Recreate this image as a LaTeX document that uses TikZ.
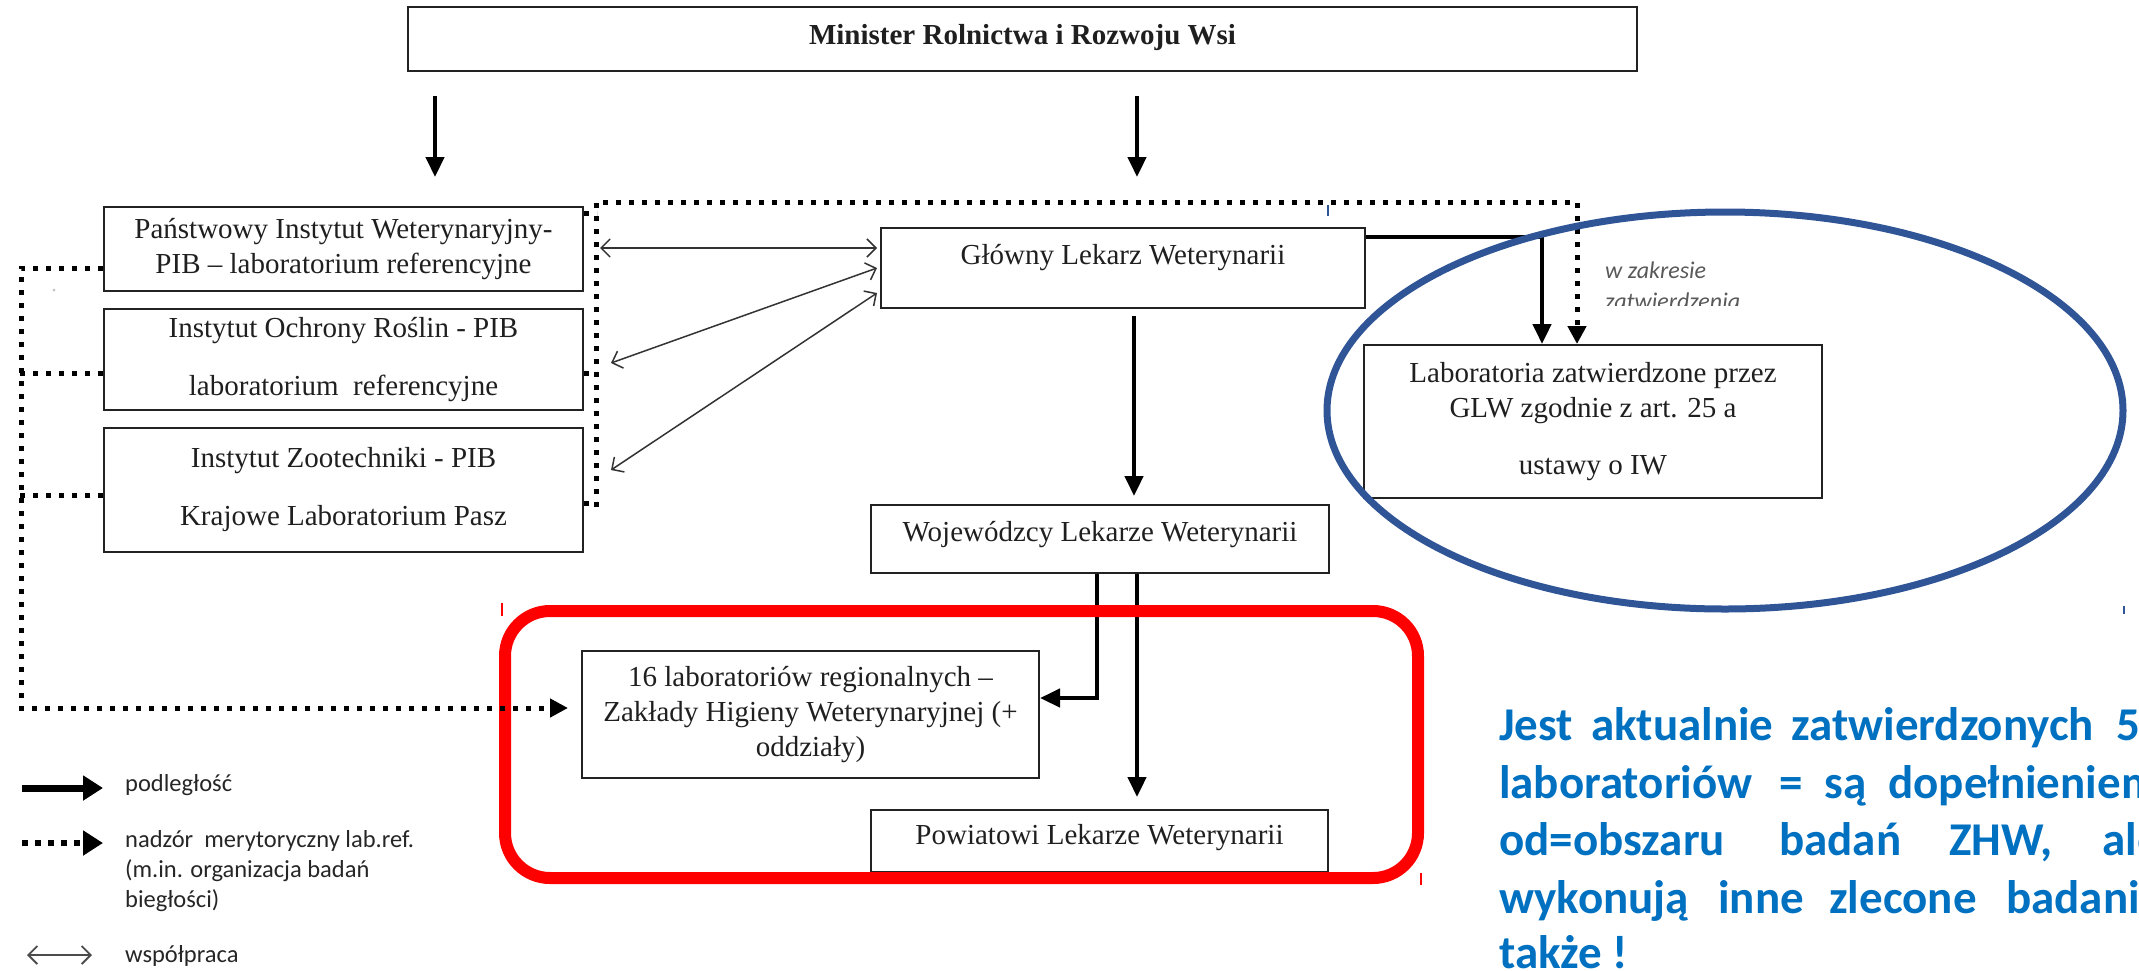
\documentclass[tikz,border=0pt]{standalone}
\usepackage{fontspec}
\setmainfont{Liberation Serif}
\newfontfamily\carlito{Carlito}
\usetikzlibrary{arrows.meta,calc}
\definecolor{ellblue}{HTML}{2F5597}
\definecolor{txtblue}{HTML}{0070C0}
\definecolor{boxline}{HTML}{222222}
\begin{document}
\begin{tikzpicture}[x=1pt,y=-1pt,
  box/.style={draw=boxline, line width=2pt, inner sep=0pt, align=center,
    font=\fontsize{29}{35}\selectfont, text=black!88},
  thickarrow/.style={line width=4.5pt, -{Triangle[length=20pt,width=18pt]}},
  dotline/.style={line width=5pt, dash pattern=on 5pt off 8pt},
  dotarrow/.style={dotline, -{Triangle[length=18pt,width=18pt]}},
  coop/.style={line width=1.5pt, draw=black!80,
    {Straight Barb[length=9pt,width=18pt]}-{Straight Barb[length=9pt,width=18pt]}},
  legtext/.style={font=\carlito\fontsize{24.5}{30}\selectfont, text=black!85, inner sep=0pt, align=left},
  bluetext/.style={font=\carlito\bfseries\fontsize{47}{57}\selectfont, text=txtblue, anchor=base west, inner sep=0pt},
  tick/.style={line width=1.2pt},
]
\useasboundingbox (0,0) rectangle (2139,970);
\clip (0,0) rectangle (2139,970);

% ---------- boxes ----------
\node[box, minimum width=1229pt, minimum height=64pt, font=\bfseries\fontsize{29}{35}\selectfont,
  text height=20pt, text depth=9pt] (min) at (1022.5,39) {Minister Rolnictwa i Rozwoju Wsi};
\node[box, minimum width=479pt, minimum height=84pt] (piw) at (343.5,249)
  {Państwowy Instytut Weterynaryjny-\\PIB – laboratorium referencyjne};
\node[box, minimum width=479pt, minimum height=101pt] (ior) at (343.5,359.5)
  {Instytut Ochrony Roślin - PIB\\[23pt]laboratorium\ \ referencyjne};
\node[box, minimum width=479pt, minimum height=124pt] (iz) at (343.5,490)
  {Instytut Zootechniki - PIB\\[23pt]Krajowe Laboratorium Pasz};
\node[box, minimum width=484pt, minimum height=80pt, text height=20pt, text depth=27pt]
  (glw) at (1123,268) {Główny Lekarz Weterynarii};
\node[box, minimum width=458pt, minimum height=68pt, text height=20pt, text depth=15pt]
  (woj) at (1100,539) {Wojewódzcy Lekarze Weterynarii};
\node[box, minimum width=458pt, minimum height=153pt] (lab) at (1593,421.5)
  {Laboratoria zatwierdzone przez\\GLW zgodnie z art. 25 a\\[22pt]ustawy o IW};
\node[box, minimum width=457pt, minimum height=127pt] (lab16) at (810.5,714.5)
  {16 laboratoriów regionalnych –\\Zakłady Higieny Weterynaryjnej (+\\oddziały)};
\node[box, minimum width=457pt, minimum height=62pt, text height=20pt, text depth=13pt]
  (pow) at (1099.5,841) {Powiatowi Lekarze Weterynarii};

% ---------- helper coordinates ----------
\coordinate (xa) at (435,0);
\coordinate (xb) at (1137,0);
\coordinate (xc) at (1134,0);
\coordinate (xl) at (1542,0);
\coordinate (xd) at (1577,0);
\coordinate (xe) at (1097,0);
\coordinate (yt) at (0,237);
\coordinate (yp) at (0,248);
\coordinate (ye) at (0,698);
\coordinate (dvb) at (596,507);
\coordinate (dvt) at (596,202);
\coordinate (dl1) at (21,268);
\coordinate (dl2) at (21,708);

% ---------- solid arrows (podległość) ----------
\draw[thickarrow, shorten <=24pt, shorten >=29pt] (min.south -| xa) -- (piw.north -| xa);
\draw[thickarrow, shorten <=24pt, shorten >=50pt] (min.south -| xb) -- (glw.north -| xb);
\draw[thickarrow, shorten <=7pt, shorten >=8pt] (glw.south -| xc) -- (woj.north -| xc);
\draw[thickarrow] (glw.east |- yt) -| (lab.north -| xl);
\draw[thickarrow] (woj.south -| xe) |- (lab16.east |- ye);
\draw[thickarrow, shorten >=12pt] (woj.south -| xb) -- (pow.north -| xb);

% ---------- cooperation arrows ----------
\draw[coop, shorten <=16pt, shorten >=3pt] (piw.east |- yp) -- (glw.west |- yp);
\draw[coop] ([shift={(27,3.5)}]ior.east) -- ([xshift=-3pt]glw.west);
\draw[coop] ([shift={(27,-20)}]iz.east) -- ([shift={(-3,25)}]glw.west);

% ---------- red frame ----------
\draw[red, line width=12pt, rounded corners=45pt] (505,611) rectangle (1418,878);

% ---------- dotted (nadzór merytoryczny) ----------
\draw[dotarrow] (dvb) -- (dvt) -| (lab.north -| xd);
\draw[dotline] ([yshift=36pt]piw.east) -- ++(13,0);
\draw[dotline] ([yshift=-13.5pt]ior.east) -- ++(13,0);
\draw[dotline] ([yshift=-13pt]iz.east) -- ++(13,0);
\draw[dotarrow, shorten >=13pt] ([yshift=-19pt]piw.west) -- (dl1) -- (dl2) -- (lab16.west |- dl2);
\draw[dotline] ([yshift=-13.5pt]ior.west) -- ++(-83,0);
\draw[dotline] ([yshift=-5pt]iz.west) -- ++(-83,0);

% ---------- label w zakresie ----------
\begin{scope}
\clip (1590,250) rectangle (1800,305);
\node[font=\carlito\itshape\fontsize{24}{30}\selectfont, text=black!65, anchor=base west, inner sep=0pt]
  (wz1) at (1605,278) {w zakresie};
\node[font=\carlito\itshape\fontsize{24}{30}\selectfont, text=black!65, anchor=base west, inner sep=0pt]
  (wz2) at (1605,309) {zatwierdzenia};
\end{scope}

% ---------- blue ellipse ----------
\draw[ellblue, line width=7pt] (1725,410.5) ellipse [x radius=398pt, y radius=198.5pt];

% ---------- legend ----------
\coordinate (l1a) at (22,788);  \coordinate (l1b) at (103,788);
\coordinate (l2a) at (22,843);  \coordinate (l2b) at (103,843);
\coordinate (l3a) at (27,955);  \coordinate (l3b) at (92,955);
\draw[line width=7pt, -{Triangle[length=20pt,width=24pt]}] (l1a) -- (l1b);
\draw[line width=6pt, dash pattern=on 6pt off 7pt, -{Triangle[length=20pt,width=24pt]}] (l2a) -- (l2b);
\draw[line width=1.8pt, draw=black!70,
  {Straight Barb[length=9pt,width=18pt]}-{Straight Barb[length=9pt,width=18pt]}] (l3a) -- (l3b);
\node[legtext, anchor=base west] (lg1) at (125,791) {podległość};
\node[legtext, anchor=west] (lg2) at (125,871.5) {nadzór\ \ merytoryczny lab.ref.\\(m.in. organizacja badań\\biegłości)};
\node[legtext, anchor=base west] (lg3) at (125,962) {współpraca};

% ---------- blue note ----------
\node[bluetext] (t1) at (1499,740) {\makebox[92pt][l]{Jest}\makebox[200pt][l]{aktualnie}\makebox[325pt][l]{zatwierdzonych}5};
\node[bluetext] (t2) at (1499,798) {\makebox[280pt][l]{laboratoriów}\makebox[45pt][l]{=}\makebox[64pt][l]{są}dopełnieniem};
\node[bluetext] (t3) at (1499,855) {\makebox[280pt][l]{od=obszaru}\makebox[170pt][l]{badań}\makebox[153pt][l]{ZHW,}ale};
\node[bluetext] (t4) at (1499,913) {\makebox[219pt][l]{wykonują}\makebox[111pt][l]{inne}\makebox[177pt][l]{zlecone}badania};
\node[bluetext] (t5) at (1499,968) {także !};

% ---------- small marks ----------
\draw[tick, ellblue] (1328,205) -- (1328,216);
\draw[tick, red] (502,603) -- (502,616);
\draw[tick, red] (1421,873) -- (1421,885);
\draw[tick, ellblue] (2124,606) -- (2124,614);
\fill[black!25] (54,290) circle (1.5pt);
\end{tikzpicture}
\end{document}
